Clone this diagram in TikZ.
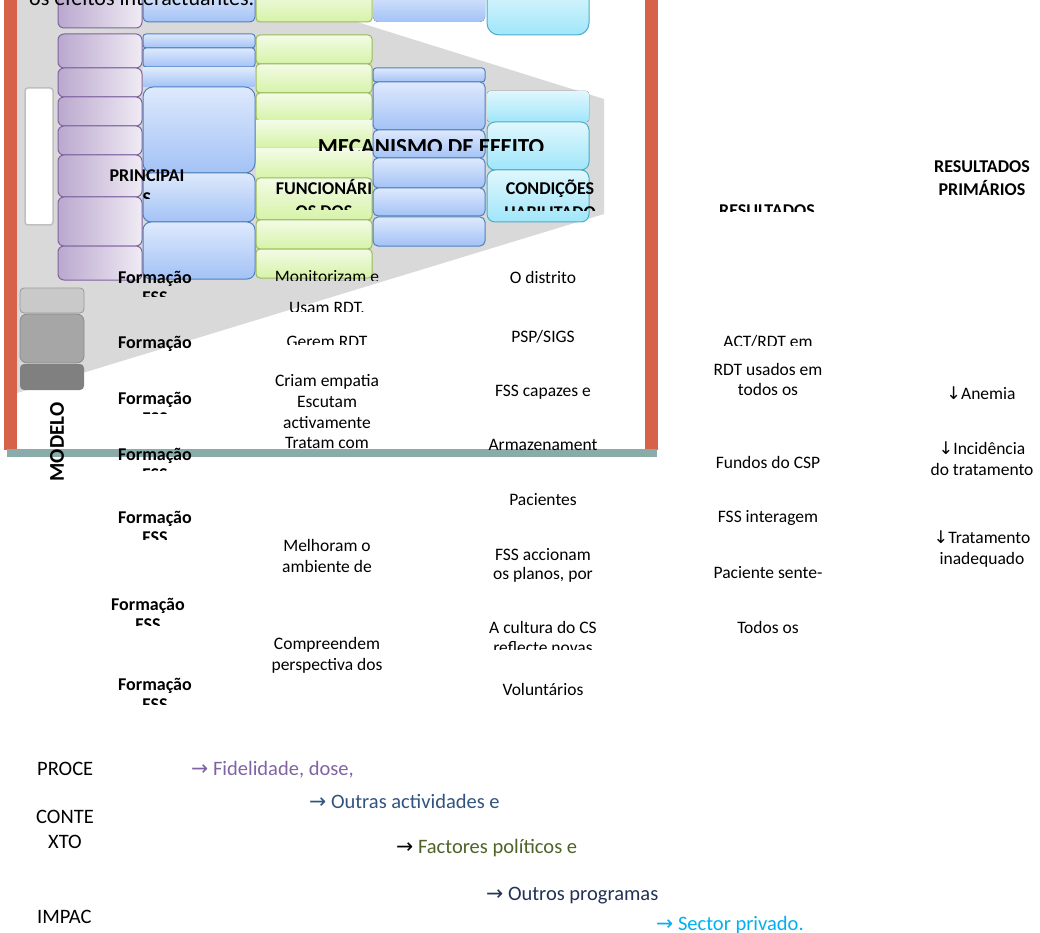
\documentclass[tikz,border=0pt]{standalone}
\usepackage{fontspec}
\setmainfont{Carlito}
\newfontfamily\arrowfont{DejaVu Sans}
\definecolor{framered}{RGB}{214,98,74}
\definecolor{tealbar}{RGB}{137,172,170}
\definecolor{funnelgray}{RGB}{217,217,217}
\definecolor{purpleline}{RGB}{128,100,162}
\definecolor{purpledark}{RGB}{186,168,206}
\definecolor{purplelight}{RGB}{240,235,244}
\definecolor{blueline}{RGB}{79,129,189}
\definecolor{bluelight}{RGB}{222,233,252}
\definecolor{bluedark}{RGB}{163,194,246}
\definecolor{greenline}{RGB}{155,187,89}
\definecolor{greenlight}{RGB}{243,251,230}
\definecolor{greendark}{RGB}{214,243,168}
\definecolor{cyanline}{RGB}{75,172,198}
\definecolor{cyanlight}{RGB}{224,247,253}
\definecolor{cyandark}{RGB}{160,230,250}
\definecolor{procpurple}{RGB}{128,100,162}
\definecolor{ctxblue}{RGB}{49,83,128}
\definecolor{polgreen}{RGB}{79,98,40}
\definecolor{prognavy}{RGB}{35,50,85}
\definecolor{privblue}{RGB}{0,176,240}

\begin{document}
\begin{tikzpicture}[x=1pt, y=-1pt,
    lbl/.style={font=\fontsize{17.5}{20}\selectfont, anchor=base, inner sep=0pt},
    hdr/.style={lbl, font=\fontsize{18}{21}\selectfont\bfseries},
    foot/.style={lbl, font=\fontsize{20.5}{24}\selectfont, anchor=base west},
    pbox/.style={draw=purpleline, line width=1pt, rounded corners=6pt, left color=purpledark, right color=purplelight},
    bbox/.style={draw=blueline, line width=1pt, rounded corners=5pt, top color=bluelight, bottom color=bluedark},
    gbox/.style={draw=greenline, line width=1pt, rounded corners=4pt, top color=greenlight, bottom color=greendark},
    cbox/.style={draw=cyanline, line width=1pt, rounded corners=8pt, top color=cyanlight, bottom color=cyandark}]
	\useasboundingbox (0,0) rectangle (1040,933);
	% funnel behind the columns
	\fill[funnelgray] (17,0) -- (287,0) -- (604,99) -- (604,214) -- (17,393) -- cycle;

	% purple column
	\draw[pbox] (58,-10) rectangle (142,28);
	\foreach \ya/\yb in {34/68, 68/97, 97/126, 126/155, 155/197, 197/246, 246/280}
		\draw[pbox] (58,\ya) rectangle (142,\yb);

	% first blue column
	\draw[bbox] (143,-10) rectangle (255,22);
	\draw[bbox, rounded corners=3pt] (143,34) rectangle (255,48);
	\draw[bbox, rounded corners=3pt] (143,48) rectangle (255,67);
	\fill[bbox, draw=none, sharp corners] (143,68) rectangle (255,87);
	\draw[bbox, rounded corners=10pt] (143,87) rectangle (255,173);
	\draw[bbox, rounded corners=8pt] (143,173) rectangle (255,222);
	\draw[bbox, rounded corners=8pt] (143,222) rectangle (255,279);

	% green column
	\draw[gbox] (256,-10) rectangle (372,22);
	\foreach \ya/\yb in {35/64, 64/93, 93/121}
		\draw[gbox] (256,\ya) rectangle (372,\yb);
	\fill[gbox, draw=none, sharp corners] (256,121) rectangle (372,147);
	\fill[gbox, draw=none, sharp corners] (256,149) rectangle (372,178);
	\foreach \ya/\yb in {178/220, 220/249, 249/278}
		\draw[gbox] (256,\ya) rectangle (372,\yb);

	% second blue column
	\fill[bbox, draw=none] (373,-10) rectangle (485,22);
	\draw[bbox, rounded corners=3pt] (373,68) rectangle (485,82);
	\foreach \ya/\yb in {82/130, 130/158, 158/188, 188/216, 217/246}
		\draw[bbox] (373,\ya) rectangle (485,\yb);

	% cyan column
	\draw[cbox, rounded corners=12pt] (487,-15) rectangle (589,35);
	\fill[cbox, draw=none, rounded corners=3pt] (487,91) rectangle (589,122);
	\draw[cbox] (487,122) rectangle (589,170);
	\draw[cbox] (487,170) rectangle (589,222);

	% left side boxes
	\draw[draw=black!25, line width=1.5pt, fill=white, rounded corners=3pt] (25,88) rectangle (53,225);
	\draw[draw=black!40, line width=0.8pt, fill=black!21, rounded corners=4pt] (20,288) rectangle (84,313);
	\draw[draw=black!45, line width=0.8pt, fill=black!35, rounded corners=7pt] (20,314) rectangle (84,363);
	\fill[black!50, rounded corners=4pt] (20,364) rectangle (84,390);

	% frame
	\fill[framered] (4,0) rectangle (17,450);
	\fill[framered] (645,0) rectangle (658,450);

	\node[lbl, font=\fontsize{22}{26}\selectfont, anchor=base west] (note) at (29,6) {os efeitos interactuantes.};
	\begin{scope}
		\clip (290,130) rectangle (580,151);
		\node[hdr, font=\fontsize{23}{27}\selectfont\bfseries] (mecanismo) at (431,154.5) {MECANISMO DE EFEITO};
	\end{scope}

	% column heads
	\node[hdr] (princ) at (147,182) {PRINCIPAI};
	\begin{scope}
		\clip (110,190) rectangle (190,199);
		\node[hdr] (princs) at (147,204.6) {S};
	\end{scope}
	\node[hdr] (func) at (324,195) {FUNCIONÁRI};
	\begin{scope}
		\clip (270,200) rectangle (380,210);
		\node[hdr] (funcb) at (324,217.6) {OS DOS};
	\end{scope}
	\node[hdr] (cond) at (550,195) {CONDIÇÕES};
	\begin{scope}
		\clip (490,200) rectangle (610,211);
		\node[hdr] (condb) at (550,218.5) {HABILITADO};
	\end{scope}
	\begin{scope}
		\clip (700,195) rectangle (840,212);
		\node[hdr] (result) at (767,217) {RESULTADOS};
	\end{scope}
	\node[hdr] (primA) at (982,173) {RESULTADOS};
	\node[hdr] (primB) at (982,196) {PRIMÁRIOS};

	% second column: actions
	\begin{scope}
		\clip (250,260) rectangle (400,280.5);
		\node[lbl] (act1) at (327,282) {Monitorizam e};
	\end{scope}
	\begin{scope}
		\clip (250,295) rectangle (400,311.5);
		\node[lbl] (act2) at (327,313) {Usam RDT.};
	\end{scope}
	\begin{scope}
		\clip (250,325) rectangle (400,344.5);
		\node[lbl] (act3) at (327,347) {Gerem RDT};
	\end{scope}
	\node[lbl] (act4a) at (327,386) {Criam empatia};
	\node[lbl] (act4b) at (327,407) {Escutam};
	\node[lbl] (act4c) at (327,428) {activamente};
	\begin{scope}
		\clip (250,430) rectangle (400,449);
		\node[lbl] (act4d) at (327,448) {Tratam com};
	\end{scope}
	\node[lbl] (act5a) at (327,551) {Melhoram o};
	\node[lbl] (act5b) at (327,572) {ambiente de};
	\node[lbl] (act6a) at (327,649) {Compreendem};
	\node[lbl] (act6b) at (327,670) {perspectiva dos};

	\fill[tealbar] (7,449) rectangle (657,457);
	\node[hdr, font=\fontsize{21}{24}\selectfont\bfseries, rotate=90, anchor=center] (modelo) at (57,442) {MODELO};

	% first column: training
	\foreach \xx/\yy [count=\i] in {155/283, 155/348, 155/404, 155/460, 155/523, 148/610, 155/690}
		\node[hdr] (form\i) at (\xx,\yy) {Formação};
	\foreach \xx/\yy/\cc [count=\i] in {155/303.5/296, 155/424.5/413.5, 155/480.5/470, 155/543.5/539, 148/630.5/625, 155/710.5/704}
	{
		\begin{scope}
			\clip (\xx-60,\yy-16) rectangle (\xx+60,\cc);
			\node[hdr] (fss\i) at (\xx,\yy) {FSS};
		\end{scope}
	}

	% third column: conditions
	\node[lbl] (cond1) at (543,283) {O distrito};
	\node[lbl] (cond2) at (543,342) {PSP/SIGS};
	\node[lbl] (cond3) at (543,396) {FSS capazes e};
	\node[lbl] (cond4) at (543,450) {Armazenament};
	\node[lbl] (cond5) at (543,505) {Pacientes};
	\node[lbl] (cond6a) at (543,560) {FSS accionam};
	\node[lbl] (cond6b) at (543,579) {os planos, por};
	\node[lbl] (cond7a) at (543,633) {A cultura do CS};
	\begin{scope}
		\clip (460,638) rectangle (630,649.5);
		\node[lbl] (cond7b) at (543,653.5) {reflecte novas};
	\end{scope}
	\node[lbl] (cond8) at (543,695) {Voluntários};

	% fourth column: results
	\begin{scope}
		\clip (690,325) rectangle (850,345);
		\node[lbl] (res1) at (768,347) {ACT/RDT em};
	\end{scope}
	\node[lbl] (res2a) at (768,375) {RDT usados em};
	\node[lbl] (res2b) at (768,395) {todos os};
	\node[lbl] (res3) at (768,468) {Fundos do CSP};
	\node[lbl] (res4) at (768,522) {FSS interagem};
	\node[lbl] (res5) at (768,578) {Paciente sente-};
	\node[lbl] (res6) at (768,633) {Todos os};

	% fifth column: primary results
	\node[lbl] (prim1) at (981,399) {{\arrowfont ↓}Anemia};
	\node[lbl] (prim2a) at (982,454) {{\arrowfont ↓}Incidência};
	\node[lbl] (prim2b) at (982,475) {do tratamento};
	\node[lbl] (prim3a) at (982,543) {{\arrowfont ↓}Tratamento};
	\node[lbl] (prim3b) at (982,564) {inadequado};

	% bottom legend
	\node[foot] (proc) at (37,775) {PROCE};
	\node[foot, anchor=base] (ctxA) at (65,823) {CONTE};
	\node[foot, anchor=base] (ctxB) at (65,848) {XTO};
	\node[foot] (impac) at (37,923) {IMPAC};
	\node[foot, text=procpurple] (fid) at (191,775) {{\arrowfont →} Fidelidade, dose,};
	\node[foot, text=ctxblue] (outras) at (309,808) {{\arrowfont →} Outras actividades e};
	\node[foot, text=polgreen] (factores) at (396,853) {\textcolor{black}{\arrowfont →} Factores políticos e};
	\node[foot, text=prognavy] (progs) at (486,900) {{\arrowfont →} Outros programas};
	\node[foot, text=privblue] (priv) at (656,930) {{\arrowfont →} Sector privado.};
\end{tikzpicture}
\end{document}
